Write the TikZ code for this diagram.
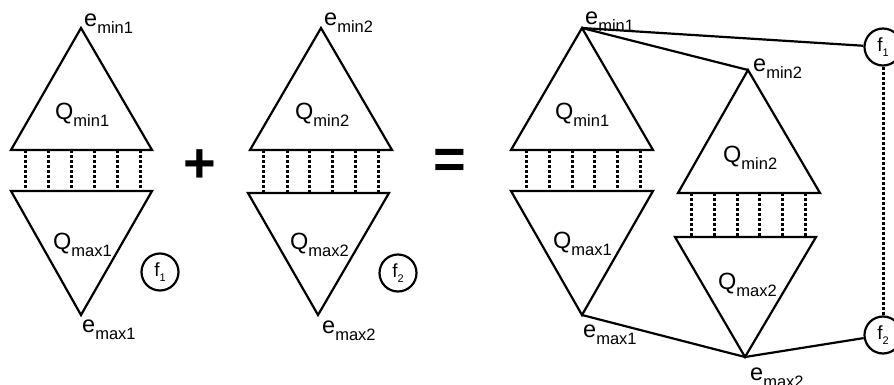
\documentclass[tikz,border=0pt]{standalone}
\usepackage{fontspec}
\setmainfont{Liberation Sans}
\newcommand{\lb}[2]{#1\raisebox{-7pt}{\fontsize{16.5}{16.5}\selectfont #2}}
\newcommand{\fl}[1]{f\raisebox{-4.5pt}{\fontsize{11}{11}\selectfont #1}}
\begin{document}
\begin{tikzpicture}[x=1pt,y=-1pt,
  tri/.style={draw=black,line width=2.2pt,line join=miter},
  link/.style={draw=black,line width=2.2pt},
  dots/.style={draw=black,line width=3pt,dash pattern=on 3.2pt off 1.8pt},
  lbl/.style={inner sep=0pt,anchor=base west,font=\fontsize{23.5}{23.5}\selectfont},
  fnode/.style={circle,draw=black,line width=2.2pt,minimum size=37pt,inner sep=0pt,font=\fontsize{19}{19}\selectfont,fill=white},
  opsym/.style={inner sep=0pt,font=\bfseries\fontsize{56}{56}\selectfont}]
\useasboundingbox (0,0) rectangle (894,385);

% ---------- left diagram 1 ----------
\coordinate (A1t) at (81,28);
\coordinate (A1b) at (81,315);
\draw[tri] (A1t) -- (152,150) -- (11,150) -- cycle;
\draw[tri] (A1b) -- (152,191) -- (11,191) -- cycle;
\foreach \x in {25,48,71,94,117,140} \draw[dots] (\x,150) -- (\x,191);
\node[lbl] (a1emin) at (84,27) {\lb{e}{min1}};
\node[lbl] (a1qmin) at (55,120) {\lb{Q}{min1}};
\node[lbl] (a1qmax) at (53,249) {\lb{Q}{max1}};
\node[lbl] (a1emax) at (82,332) {\lb{e}{max1}};
\node[fnode] (a1f) at (160,272) {\fl{1}};

\node[opsym] (plus) at (200,166) {+};

% ---------- left diagram 2 ----------
\coordinate (A2t) at (321,28);
\coordinate (A2b) at (318,315);
\draw[tri] (A2t) -- (392,150) -- (250,150) -- cycle;
\draw[tri] (A2b) -- (389,193) -- (248,193) -- cycle;
\foreach \x in {263,287,309,332,355,378} \draw[dots] (\x,150) -- (\x,193);
\node[lbl] (a2emin) at (324,26) {\lb{e}{min2}};
\node[lbl] (a2qmin) at (295,120) {\lb{Q}{min2}};
\node[lbl] (a2qmax) at (290,249) {\lb{Q}{max2}};
\node[lbl] (a2emax) at (322,333) {\lb{e}{max2}};
\node[fnode] (a2f) at (398,273) {\fl{2}};

\node[opsym] (eq) at (450,164) {=};

% ---------- right diagram ----------
\coordinate (B1t) at (582,28);
\coordinate (B1b) at (582,315);
\coordinate (B2t) at (748,70);
\coordinate (B2b) at (745,357);
\draw[tri] (B1t) -- (653,150) -- (511,150) -- cycle;
\draw[tri] (B1b) -- (653,191) -- (511,191) -- cycle;
\foreach \x in {526,549,572,594,617,640} \draw[dots] (\x,150) -- (\x,191);
\draw[tri] (B2t) -- (820,193) -- (678,193) -- cycle;
\draw[tri] (B2b) -- (816,237) -- (675,237) -- cycle;
\foreach \x in {691,714,737,759,782,805} \draw[dots] (\x,193) -- (\x,237);

\node[fnode] (bf1) at (883,47) {\fl{1}};
\node[fnode] (bf2) at (883,335) {\fl{2}};

\draw[link] (B1t) -- (bf1);
\draw[link] (B1t) -- (B2t);
\draw[link] (B1b) -- (B2b);
\draw[link] (B2b) -- (bf2);
\draw[dots] (bf1) -- (bf2);

\node[lbl] (b1emin) at (585,25) {\lb{e}{min1}};
\node[lbl] (b2emin) at (753,72) {\lb{e}{min2}};
\node[lbl] (b1qmin) at (555,120) {\lb{Q}{min1}};
\node[lbl] (b2qmin) at (723,162) {\lb{Q}{min2}};
\node[lbl] (b1qmax) at (553,248) {\lb{Q}{max1}};
\node[lbl] (b2qmax) at (718,289) {\lb{Q}{max2}};
\node[lbl] (b1emax) at (583,337) {\lb{e}{max1}};
\node[lbl] (b2emax) at (750,380) {\lb{e}{max2}};
\end{tikzpicture}
\end{document}
